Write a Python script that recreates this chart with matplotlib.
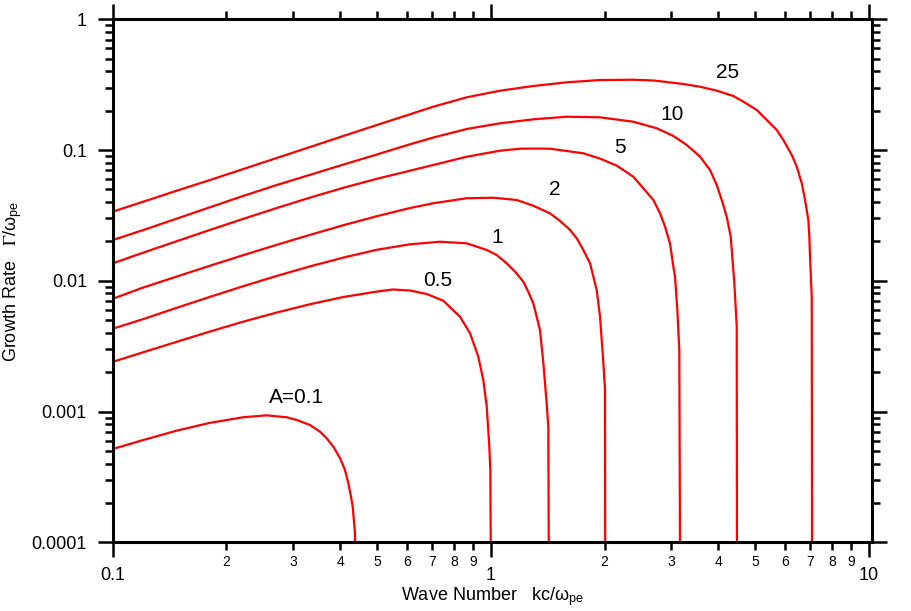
import numpy as np
import matplotlib
matplotlib.use("Agg")
import matplotlib.pyplot as plt
from matplotlib.ticker import LogLocator, FuncFormatter, NullFormatter

plt.rcParams["font.family"] = ["Liberation Sans", "DejaVu Sans"]
plt.rcParams["mathtext.fontset"] = "stix"

# Growth rate curves, one per anisotropy A
k_01 = [0.1, 0.1205, 0.1477, 0.1809, 0.2216, 0.2555, 0.2886, 0.3067, 0.3327,
        0.3535, 0.3683, 0.3835, 0.3995, 0.4116, 0.4201, 0.4262, 0.4314,
        0.4375, 0.4379]
g_01 = [5.17e-4, 6.06e-4, 7.15e-4, 8.2e-4, 9.05e-4, 9.36e-4, 9.04e-4, 8.62e-4,
        7.89e-4, 7.01e-4, 6.24e-4, 5.38e-4, 4.39e-4, 3.57e-4, 2.83e-4, 2.3e-4,
        1.87e-4, 1.17e-4, 1.0e-4]

k_05 = [0.1, 0.1205, 0.1477, 0.1809, 0.2216, 0.2716, 0.3327, 0.4074, 0.4994,
        0.55, 0.6115, 0.677, 0.749, 0.8294, 0.8816, 0.927, 0.9559, 0.976,
        0.9915, 0.9976, 1.0]
g_05 = [2.4e-3, 2.844e-3, 3.416e-3, 4.094e-3, 4.875e-3, 5.722e-3, 6.622e-3,
        7.518e-3, 8.268e-3, 8.58e-3, 8.43e-3, 7.93e-3, 7.04e-3, 5.31e-3,
        3.97e-3, 2.63e-3, 1.74e-3, 1.09e-3, 5.38e-4, 3.57e-4, 1.0e-4]

k_1 = [0.1, 0.1205, 0.1477, 0.1809, 0.2216, 0.2716, 0.3327, 0.4074, 0.4994,
       0.6115, 0.734, 0.8639, 0.976, 1.037, 1.102, 1.16, 1.22, 1.257, 1.296,
       1.323, 1.35, 1.364, 1.378, 1.392, 1.406, 1.42, 1.424]
g_1 = [4.3e-3, 5.1e-3, 6.22e-3, 7.54e-3, 9.1e-3, 1.09e-2, 1.29e-2, 1.505e-2,
       1.727e-2, 1.902e-2, 1.99e-2, 1.935e-2, 1.72e-2, 1.575e-2, 1.36e-2,
       1.174e-2, 9.84e-3, 8.25e-3, 6.73e-3, 5.31e-3, 4.2e-3, 3.13e-3,
       2.34e-3, 1.64e-3, 1.156e-3, 7.66e-4, 1.0e-4]

k_2 = [0.1, 0.1205, 0.1477, 0.1809, 0.2216, 0.2716, 0.3327, 0.4074, 0.4994,
       0.6115, 0.7047, 0.8639, 1.016, 1.172, 1.296, 1.435, 1.525, 1.621,
       1.689, 1.758, 1.831, 1.907, 1.946, 1.986, 2.006, 2.008]
g_2 = [7.29e-3, 8.89e-3, 1.078e-2, 1.305e-2, 1.572e-2, 1.885e-2, 2.247e-2,
       2.662e-2, 3.119e-2, 3.603e-2, 3.92e-2, 4.28e-2, 4.32e-2, 4.15e-2,
       3.75e-2, 3.28e-2, 2.87e-2, 2.45e-2, 2.11e-2, 1.72e-2, 1.36e-2, 8.5e-3,
       5.31e-3, 2.34e-3, 1.46e-3, 1.0e-4]

k_5 = [0.1, 0.1205, 0.1477, 0.1809, 0.2216, 0.2716, 0.3327, 0.4074, 0.4994,
       0.6115, 0.7047, 0.8639, 1.058, 1.195, 1.31, 1.435, 1.758, 1.946,
       2.154, 2.384, 2.533, 2.693, 2.805, 2.892, 2.98, 3.042, 3.073, 3.116,
       3.154, 3.167]
g_5 = [1.36e-2, 1.643e-2, 2.009e-2, 2.451e-2, 2.979e-2, 3.603e-2, 4.329e-2,
       5.144e-2, 6.027e-2, 6.953e-2, 7.69e-2, 8.89e-2, 9.89e-2, 1.024e-1,
       1.027e-1, 1.024e-1, 9.44e-2, 8.6e-2, 7.6e-2, 6.25e-2, 5.1e-2, 4.15e-2,
       3.28e-2, 2.59e-2, 1.935e-2, 1.28e-2, 1.075e-2, 5.98e-3, 2.96e-3, 1.0e-4]

k_10 = [0.1, 0.1205, 0.1477, 0.1809, 0.2216, 0.2716, 0.3327, 0.4074, 0.4994,
        0.6115, 0.7047, 0.8639, 1.058, 1.296, 1.589, 1.946, 2.384, 2.749,
        3.042, 3.301, 3.579, 3.803, 3.962, 4.084, 4.21, 4.314, 4.341, 4.41,
        4.475, 4.48]
g_10 = [2.05e-2, 2.446e-2, 2.989e-2, 3.655e-2, 4.461e-2, 5.403e-2, 6.466e-2,
        7.741e-2, 9.248e-2, 1.107e-1, 1.247e-1, 1.449e-1, 1.602e-1, 1.718e-1,
        1.799e-1, 1.78e-1, 1.647e-1, 1.467e-1, 1.281e-1, 1.093e-1, 8.89e-2,
        7.04e-2, 5.4e-2, 4.15e-2, 3.09e-2, 2.175e-2, 1.72e-2, 9.57e-3,
        4.46e-3, 1.0e-4]

k_25 = [0.1, 0.1205, 0.1477, 0.1809, 0.2216, 0.2716, 0.3327, 0.4074, 0.4994,
        0.6115, 0.7047, 0.8639, 1.058, 1.296, 1.589, 1.946, 2.384, 2.693,
        3.233, 3.579, 3.962, 4.384, 4.659, 5.055, 5.373, 5.71, 5.944, 6.256,
        6.449, 6.649, 6.784, 6.921, 6.964, 6.993, 7.066, 7.079]
g_25 = [3.38e-2, 4.03e-2, 4.89e-2, 5.9e-2, 7.163e-2, 8.694e-2, 1.055e-1,
        1.281e-1, 1.554e-1, 1.877e-1, 2.146e-1, 2.532e-1, 2.844e-1, 3.09e-1,
        3.298e-1, 3.433e-1, 3.45e-1, 3.405e-1, 3.2e-1, 3.05e-1, 2.844e-1,
        2.59e-1, 2.343e-1, 2.025e-1, 1.697e-1, 1.423e-1, 1.193e-1, 9.17e-2,
        7.46e-2, 5.57e-2, 4.15e-2, 2.92e-2, 2.175e-2, 1.529e-2, 7.56e-3,
        1.0e-4]

curves = [(k_01, g_01), (k_05, g_05), (k_1, g_1), (k_2, g_2),
          (k_5, g_5), (k_10, g_10), (k_25, g_25)]

# curve labels and where they sit
labels = ["A=0.1", "0.5", "1", "2", "5", "10", "25"]
label_k = [0.307, 0.725, 1.039, 1.48, 2.2, 3.02, 4.22]
label_g = [1.29e-3, 9.97e-3, 2.16e-2, 4.95e-2, 0.104, 0.1887, 0.395]

fig = plt.figure(figsize=(9.11, 6.11), dpi=100)
ax = fig.add_axes([0.1237, 0.1124, 0.8335, 0.856])

for k, g in curves:
    ax.plot(k, g, color="red", lw=1.6, solid_joinstyle="round")

for txt, xk, yg in zip(labels, label_k, label_g):
    ax.text(xk, yg, txt, fontsize=15, ha="center", va="center")

ax.set_xscale("log")
ax.set_yscale("log")
ax.set_xlim(0.1, 10.2)
ax.set_ylim(1e-4, 1)

ax.xaxis.set_major_locator(LogLocator(base=10))
ax.xaxis.set_minor_locator(LogLocator(base=10, subs=np.arange(2, 10)))
ax.yaxis.set_major_locator(LogLocator(base=10))
ax.yaxis.set_minor_locator(LogLocator(base=10, subs=np.arange(2, 10)))

ax.xaxis.set_major_formatter(FuncFormatter(lambda v, p: "%g" % v))
ax.xaxis.set_minor_formatter(FuncFormatter(lambda v, p: "%d" % round(v / 10 ** np.floor(np.log10(v) + 1e-9))))
ax.yaxis.set_major_formatter(FuncFormatter(lambda v, p: "%g" % v))
ax.yaxis.set_minor_formatter(NullFormatter())

ax.tick_params(which="both", direction="out", top=True, right=True,
               labeltop=False, labelright=False, width=1.8, color="black")
ax.tick_params(which="major", length=10.5)
ax.tick_params(which="minor", length=5.8)
ax.tick_params(axis="x", which="major", labelsize=13, pad=7.5)
ax.tick_params(axis="x", which="minor", labelsize=10, pad=3.5)
ax.tick_params(axis="y", which="major", labelsize=13, pad=8)

for s in ax.spines.values():
    s.set_linewidth(2.2)

ax.set_xlabel("Wave Number   kc/ω$_{\\mathregular{pe}}$", fontsize=13)
ax.set_ylabel("Growth Rate   $\\Gamma$/ω$_{\\mathregular{pe}}$", fontsize=13)
ax.xaxis.set_label_coords(0.5, -0.082)
ax.yaxis.set_label_coords(-0.117, 0.5)

fig.savefig("out.png", dpi=100)
